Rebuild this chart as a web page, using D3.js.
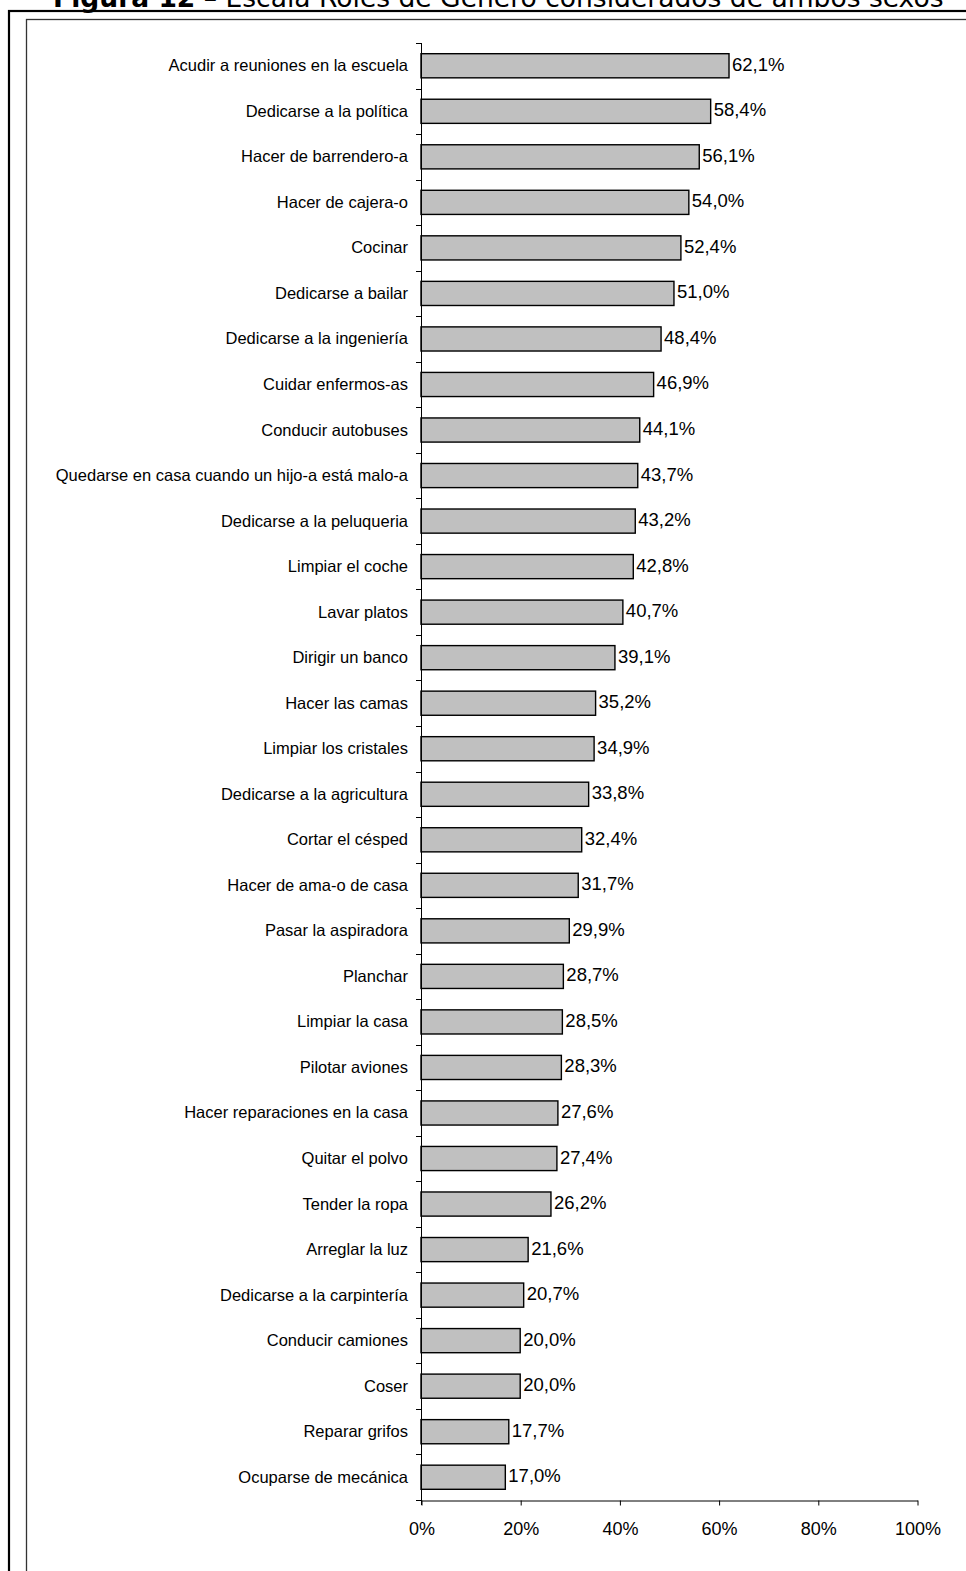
<!DOCTYPE html>
<html>
<head>
<meta charset="utf-8">
<script src="https://cdn.jsdelivr.net/npm/d3@7"></script>
<style>
  html, body { margin: 0; padding: 0; background: #fff; overflow: hidden; }
  svg { display: block; }
</style>
</head>
<body>
<svg id="chart" width="966" height="1571"></svg>
<script>
// Activities, in display order (top to bottom)
const categories = [
  "Acudir a reuniones en la escuela",
  "Dedicarse a la política",
  "Hacer de barrendero-a",
  "Hacer de cajera-o",
  "Cocinar",
  "Dedicarse a bailar",
  "Dedicarse a la ingeniería",
  "Cuidar enfermos-as",
  "Conducir autobuses",
  "Quedarse en casa cuando un hijo-a está malo-a",
  "Dedicarse a la peluqueria",
  "Limpiar el coche",
  "Lavar platos",
  "Dirigir un banco",
  "Hacer las camas",
  "Limpiar los cristales",
  "Dedicarse a la agricultura",
  "Cortar el césped",
  "Hacer de ama-o de casa",
  "Pasar la aspiradora",
  "Planchar",
  "Limpiar la casa",
  "Pilotar aviones",
  "Hacer reparaciones en la casa",
  "Quitar el polvo",
  "Tender la ropa",
  "Arreglar la luz",
  "Dedicarse a la carpintería",
  "Conducir camiones",
  "Coser",
  "Reparar grifos",
  "Ocuparse de mecánica"
];

// Percentage answering "both sexes"
const values = [
  62.1, 58.4, 56.1, 54.0, 52.4, 51.0, 48.4, 46.9, 44.1, 43.7, 43.2,
  42.8, 40.7, 39.1, 35.2, 34.9, 33.8, 32.4, 31.7, 29.9, 28.7, 28.5,
  28.3, 27.6, 27.4, 26.2, 21.6, 20.7, 20.0, 20.0, 17.7, 17.0
];

const xTicks = [0, 20, 40, 60, 80, 100];

const titleBold = "Figura 12";
const titleRest = " – Escala Roles de Género considerados de ambos sexos";

const data = categories.map((c, i) => ({ cat: c, val: values[i] }));

const svg = d3.select("#chart");

// Title (runs off the top edge of the page)
const titleLeft = 53, titleRight = 944;
const title = svg.append("text")
  .attr("x", titleLeft)
  .attr("y", 7)
  .attr("font-family", "'DejaVu Sans', Verdana, sans-serif")
  .attr("font-size", 26)
  .attr("fill", "#000");
title.append("tspan").attr("font-weight", "bold").text(titleBold);
title.append("tspan").text(titleRest);
// size the title so it spans the page width
const tw = title.node().getComputedTextLength();
title.attr("font-size", 26 * (titleRight - titleLeft) / tw);

// Frames
svg.append("rect")
  .attr("x", 9).attr("y", 11)
  .attr("width", 1000).attr("height", 1700)
  .attr("fill", "none").attr("stroke", "#000").attr("stroke-width", 2.2);
svg.append("rect")
  .attr("x", 26.5).attr("y", 19.5)
  .attr("width", 1000).attr("height", 1700)
  .attr("fill", "none").attr("stroke", "#333").attr("stroke-width", 1.3);

// Scales
const x0 = 421, x1 = 917, yTop = 43, yBot = 1500;
const x = d3.scaleLinear().domain([0, 100]).range([x0, x1]);
const y = d3.scaleBand().domain(categories).range([yTop, yBot]).paddingInner(0.47).paddingOuter(0.235);

const font = "'Liberation Sans', Arial, sans-serif";

// Bars
svg.append("g").selectAll("rect")
  .data(data)
  .enter().append("rect")
  .attr("x", x(0))
  .attr("y", d => y(d.cat))
  .attr("width", d => x(d.val) - x(0))
  .attr("height", y.bandwidth())
  .attr("fill", "#c0c0c0")
  .attr("stroke", "#000")
  .attr("stroke-width", 1.4);

// Value labels
const fmt = v => v.toFixed(1).replace(".", ",") + "%";
svg.append("g").selectAll("text")
  .data(data)
  .enter().append("text")
  .attr("x", d => x(d.val) + 3)
  .attr("y", d => y(d.cat) + y.bandwidth() / 2 + 5)
  .attr("font-family", font)
  .attr("font-size", 18.5)
  .attr("fill", "#000")
  .text(d => fmt(d.val));

// Category axis: ticks at band boundaries
const step = (yBot - yTop) / categories.length;
const yAxisG = svg.append("g");
yAxisG.append("line")
  .attr("x1", x0 + 0.5).attr("x2", x0 + 0.5)
  .attr("y1", yTop).attr("y2", yBot + 5)
  .attr("stroke", "#000").attr("stroke-width", 1);
yAxisG.selectAll("line.tick")
  .data(d3.range(categories.length + 1))
  .enter().append("line")
  .attr("class", "tick")
  .attr("x1", x0 - 5).attr("x2", x0)
  .attr("y1", i => Math.round(yTop + i * step) + 0.5)
  .attr("y2", i => Math.round(yTop + i * step) + 0.5)
  .attr("stroke", "#000");
yAxisG.selectAll("text")
  .data(data)
  .enter().append("text")
  .attr("x", x0 - 13)
  .attr("y", d => y(d.cat) + y.bandwidth() / 2 + 5.5)
  .attr("text-anchor", "end")
  .attr("font-family", font)
  .attr("font-size", 16.5)
  .attr("fill", "#000")
  .text(d => d.cat);

// Value axis
const xAxis = d3.axisBottom(x)
  .tickValues(xTicks)
  .tickSize(5)
  .tickSizeOuter(0)
  .tickFormat(d => d + "%");
const xg = svg.append("g")
  .attr("transform", `translate(0.5,${yBot + 0.5})`)
  .call(xAxis);
xg.select(".domain").attr("stroke", "#000");
xg.selectAll(".tick line").attr("stroke", "#000");
xg.selectAll(".tick text")
  .attr("y", 34)
  .attr("dy", 0)
  .attr("font-family", font)
  .attr("font-size", 18)
  .attr("fill", "#000");
</script>
</body>
</html>
